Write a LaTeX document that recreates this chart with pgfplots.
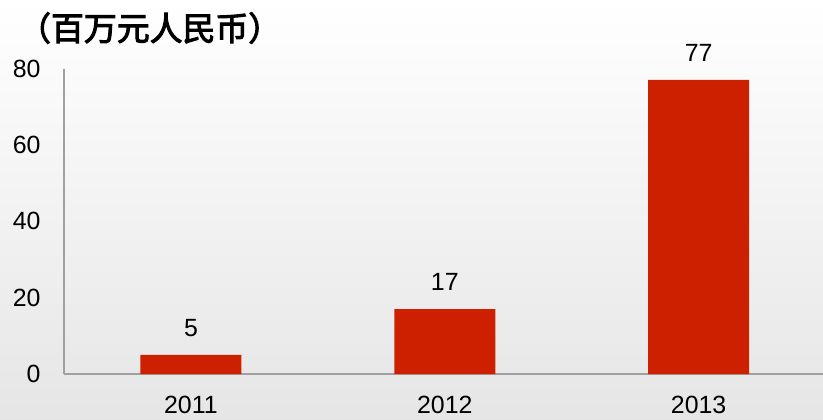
\documentclass[border=0pt]{standalone}
\usepackage{fontspec}
\setmainfont{Liberation Sans}
\newfontfamily\cjk[FakeBold=3]{Noto Sans CJK SC}
\usepackage{pgfplots}
\pgfplotsset{compat=1.18}
\definecolor{barred}{RGB}{204,32,0}
\definecolor{axisgray}{RGB}{160,160,160}
\begin{document}
\begin{tikzpicture}[x=1bp,y=1bp]
\shade[top color=white, bottom color=black!10] (0,0) rectangle (823,419);
\node[font={\cjk\fontsize{33}{36}\selectfont}, anchor=west, inner sep=0pt] at (18,391) {（百万元人民币）};
\begin{axis}[
    at={(64bp,45bp)}, anchor=south west,
    scale only axis,
    width=759bp, height=305.5bp,
    xmin=-0.5, xmax=2.49,
    ymin=0, ymax=80,
    ytick={0,20,40,60,80},
    xtick={0,1,2},
    xticklabels={2011,2012,2013},
    axis x line=bottom, axis y line=left,
    axis line style={axisgray, line width=1.2bp, -},
    major tick length=0pt,
    ticklabel style={font=\fontsize{25}{30}\selectfont},
    /pgf/number format/assume math mode=true,
    yticklabel style={xshift=-20bp},
    xticklabel style={yshift=-19bp},
    nodes near coords,
    every node near coord/.append style={font=\fontsize{25}{30}\selectfont, yshift=15bp, black},
    clip=false,
]
\addplot[ybar, bar width=101bp, fill=barred, draw=none] coordinates {(0,5) (1,17) (2,77)};
\end{axis}
\pgfresetboundingbox
\path (0,0) rectangle (823,419);
\end{tikzpicture}
\end{document}
